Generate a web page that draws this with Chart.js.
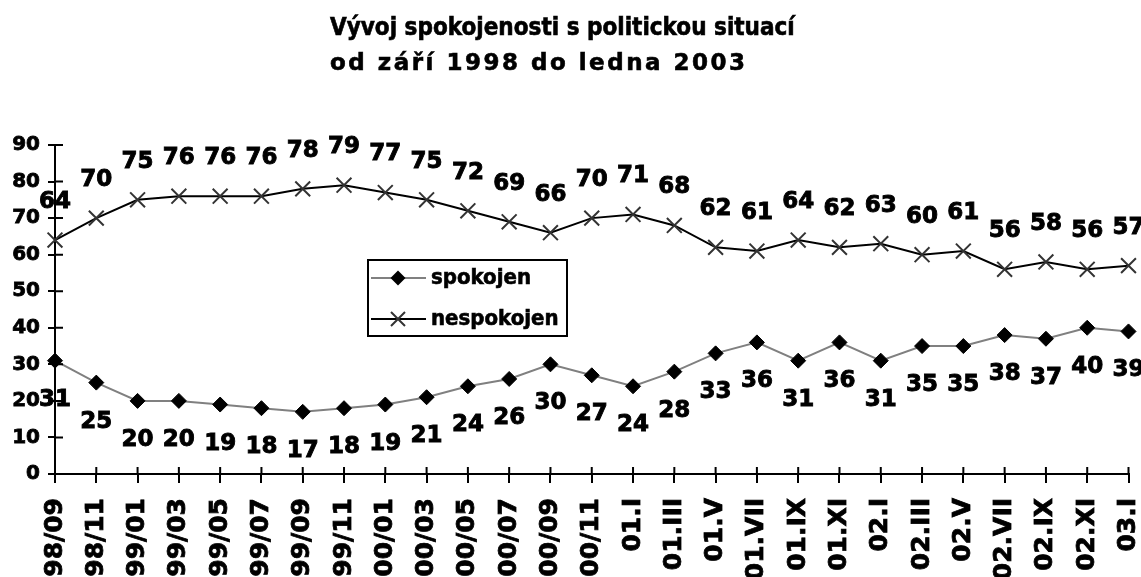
<!DOCTYPE html>
<html>
<head>
<meta charset="utf-8">
<title>Vývoj spokojenosti s politickou situací</title>
<script src="https://cdn.jsdelivr.net/npm/chart.js@4/dist/chart.umd.min.js"></script>
<style>
    body { margin: 0; background: #fff; }
</style>
</head>
<body>
<canvas id="trendChart" width="1141" height="577"></canvas>
<script>
const titleLines = ['Vývoj spokojenosti s politickou situací', 'od září 1998 do ledna 2003'];
const months = ['98/09', '98/11', '99/01', '99/03', '99/05', '99/07', '99/09', '99/11',
    '00/01', '00/03', '00/05', '00/07', '00/09', '00/11', '01.I', '01.III', '01.V', '01.VII',
    '01.IX', '01.XI', '02.I', '02.III', '02.V', '02.VII', '02.IX', '02.XI', '03.I'];
const spokojen = [31, 25, 20, 20, 19, 18, 17, 18, 19, 21, 24, 26, 30, 27, 24, 28, 33, 36,
    31, 36, 31, 35, 35, 38, 37, 40, 39];
const nespokojen = [64, 70, 75, 76, 76, 76, 78, 79, 77, 75, 72, 69, 66, 70, 71, 68, 62, 61,
    64, 62, 63, 60, 61, 56, 58, 56, 57];
const yTicks = [0, 10, 20, 30, 40, 50, 60, 70, 80, 90];

const FONT = '"DejaVu Sans", Verdana, sans-serif';
const FONT_NARROW = '"DejaVu Sans Condensed", "DejaVu Sans", sans-serif';

// fill + thin stroke, the original type is a bit heavier than DejaVu Bold
function heavyText(ctx, text, x, y, w) {
    ctx.lineWidth = w;
    ctx.strokeStyle = '#000';
    ctx.strokeText(text, x, y);
    ctx.fillText(text, x, y);
}

// title drawn by hand: two lines, left aligned, second one letter spaced
const titlePlugin = {
    id: 'twoLineTitle',
    afterDraw(chart) {
        const ctx = chart.ctx;
        ctx.save();
        ctx.fillStyle = '#000';
        ctx.textAlign = 'left';
        ctx.textBaseline = 'alphabetic';
        ctx.font = 'bold 24px ' + FONT_NARROW;
        heavyText(ctx, titleLines[0], 330, 35, 0.6);
        ctx.font = 'bold 23px ' + FONT;
        ctx.letterSpacing = '2.5px';
        heavyText(ctx, titleLines[1], 330, 70, 0.6);
        ctx.restore();
    }
};

// tick marks crossing into the plot, like the original
const innerTicks = {
    id: 'innerTicks',
    afterDraw(chart) {
        const ctx = chart.ctx;
        const xs = chart.scales.x, ys = chart.scales.y;
        ctx.save();
        ctx.strokeStyle = '#000';
        ctx.lineWidth = 2;
        ctx.beginPath();
        xs.ticks.forEach((t, i) => {
            const px = xs.getPixelForTick(i);
            ctx.moveTo(px, ys.bottom);
            ctx.lineTo(px, ys.bottom - 7);
        });
        ys.ticks.forEach((t, i) => {
            const py = ys.getPixelForTick(i);
            ctx.moveTo(xs.left, py);
            ctx.lineTo(xs.left + 8, py);
        });
        ctx.stroke();
        ctx.restore();
    }
};

// value labels above / below each point
const pointLabels = {
    id: 'pointLabels',
    afterDatasetsDraw(chart, args, opts) {
        const ctx = chart.ctx;
        ctx.save();
        ctx.fillStyle = '#000';
        ctx.font = 'bold 23px ' + FONT;
        ctx.textAlign = 'center';
        ctx.textBaseline = 'middle';
        chart.data.datasets.forEach((ds, di) => {
            const meta = chart.getDatasetMeta(di);
            meta.data.forEach((pt, i) => {
                heavyText(ctx, String(ds.data[i]), pt.x, pt.y + opts.offsets[di], 0.9);
            });
        });
        ctx.restore();
    }
};

// boxed legend inside the plot
const boxLegend = {
    id: 'boxLegend',
    afterDraw(chart) {
        const ctx = chart.ctx;
        const box = { x: 368, y: 260, w: 199, h: 76 };
        ctx.save();
        ctx.fillStyle = '#fff';
        ctx.fillRect(box.x, box.y, box.w, box.h);
        ctx.strokeStyle = '#000';
        ctx.lineWidth = 2;
        ctx.strokeRect(box.x, box.y, box.w, box.h);

        const rows = [box.y + 18, box.y + 59];
        chart.data.datasets.forEach((ds, di) => {
            const cy = rows[di];
            ctx.strokeStyle = ds.borderColor;
            ctx.lineWidth = 2;
            ctx.beginPath();
            ctx.moveTo(box.x + 3, cy);
            ctx.lineTo(box.x + 58, cy);
            ctx.stroke();
            const cx = box.x + 30;
            if (ds.pointStyle === 'rectRot') {
                const r = 7.5;
                ctx.fillStyle = '#000';
                ctx.beginPath();
                ctx.moveTo(cx, cy - r);
                ctx.lineTo(cx + r, cy);
                ctx.lineTo(cx, cy + r);
                ctx.lineTo(cx - r, cy);
                ctx.closePath();
                ctx.fill();
            } else {
                const r = 7;
                ctx.strokeStyle = ds.pointBorderColor;
                ctx.beginPath();
                ctx.moveTo(cx - r, cy - r);
                ctx.lineTo(cx + r, cy + r);
                ctx.moveTo(cx + r, cy - r);
                ctx.lineTo(cx - r, cy + r);
                ctx.stroke();
            }
            ctx.fillStyle = '#000';
            ctx.font = 'bold 22px ' + FONT_NARROW;
            ctx.textAlign = 'left';
            ctx.textBaseline = 'middle';
            heavyText(ctx, ds.label, box.x + 63, cy, 0.6);
        });
        ctx.restore();
    }
};

const ctx = document.getElementById('trendChart').getContext('2d');
new Chart(ctx, {
    type: 'line',
    data: {
        labels: months,
        datasets: [{
            label: 'spokojen',
            data: spokojen,
            borderColor: '#808080',
            borderWidth: 2,
            pointStyle: 'rectRot',
            pointRadius: 7.5,
            pointBackgroundColor: '#000',
            pointBorderColor: '#000',
            pointBorderWidth: 1,
            tension: 0,
            clip: false
        }, {
            label: 'nespokojen',
            data: nespokojen,
            borderColor: '#000',
            borderWidth: 2,
            pointStyle: 'crossRot',
            pointRadius: 10.5,
            pointBorderColor: '#333',
            pointBorderWidth: 2,
            tension: 0,
            clip: false
        }]
    },
    options: {
        responsive: false,
        animation: false,
        layout: {
            padding: { top: 145, right: 12, bottom: 0, left: 0 }
        },
        scales: {
            x: {
                offset: false,
                grid: {
                    drawOnChartArea: false,
                    color: '#000',
                    lineWidth: 2,
                    tickLength: 9
                },
                border: { color: '#000', width: 2 },
                ticks: {
                    autoSkip: false,
                    minRotation: 90,
                    maxRotation: 90,
                    padding: 15,
                    color: '#000',
                    textStrokeColor: '#000',
                    textStrokeWidth: 0.8,
                    font: { family: FONT, size: 25, weight: 'bold' }
                },
                afterFit: scale => {
                    scale.height = 103;
                    scale.paddingLeft = 0;
                    scale.paddingRight = 12;
                }
            },
            y: {
                min: 0,
                max: 90,
                afterBuildTicks: scale => {
                    scale.ticks = yTicks.map(v => ({ value: v }));
                },
                grid: {
                    drawOnChartArea: false,
                    color: '#000',
                    lineWidth: 2,
                    tickLength: 7
                },
                border: { color: '#000', width: 2 },
                ticks: {
                    padding: 8,
                    color: '#000',
                    textStrokeColor: '#000',
                    textStrokeWidth: 0.8,
                    font: { family: FONT, size: 20, weight: 'bold' }
                },
                afterFit: scale => { scale.width = 55; }
            }
        },
        plugins: {
            legend: { display: false },
            title: { display: false },
            tooltip: { enabled: false },
            pointLabels: { offsets: [39, -38] }
        }
    },
    plugins: [titlePlugin, innerTicks, pointLabels, boxLegend]
});
</script>
</body>
</html>
